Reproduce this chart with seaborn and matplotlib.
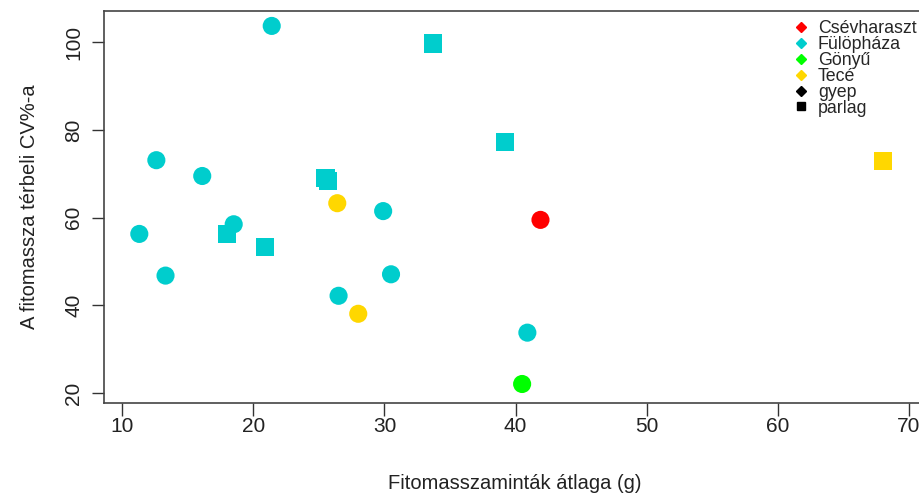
import matplotlib
matplotlib.use("Agg")
import matplotlib.pyplot as plt
from matplotlib import font_manager
from matplotlib.lines import Line2D
import pandas as pd
import seaborn as sns

# data
site = [
    "Fülöpháza", "Fülöpháza", "Fülöpháza", "Fülöpháza", "Fülöpháza",
    "Fülöpháza", "Fülöpháza", "Tecé", "Fülöpháza", "Csévharaszt",
    "Fülöpháza", "Fülöpháza", "Fülöpháza", "Fülöpháza", "Fülöpháza",
    "Fülöpháza", "Fülöpháza", "Tecé", "Fülöpháza", "Gönyű", "Tecé",
]
habitat = [
    "gyep", "parlag", "parlag", "gyep", "gyep",
    "parlag", "parlag", "gyep", "gyep", "gyep",
    "gyep", "gyep", "parlag", "parlag", "gyep",
    "gyep", "gyep", "gyep", "gyep", "gyep", "parlag",
]
biomass_mean = [
    21.4, 33.7, 39.2, 12.6, 16.1,
    25.5, 25.7, 26.4, 29.9, 41.9,
    11.3, 18.5, 18.0, 20.9, 13.3,
    30.5, 26.5, 28.0, 40.9, 40.5, 68.0,
]
biomass_cv = [
    103.7, 99.7, 77.2, 73.1, 69.5,
    69.1, 68.4, 63.3, 61.5, 59.5,
    56.3, 58.5, 56.2, 53.3, 46.8,
    47.1, 42.2, 38.1, 33.8, 22.1, 73.0,
]

site_order = ["Csévharaszt", "Fülöpháza", "Gönyű", "Tecé"]
site_colors = {"Csévharaszt": "#ff0000", "Fülöpháza": "#00cdcd",
               "Gönyű": "#00ff00", "Tecé": "#ffd700"}
habitat_order = ["gyep", "parlag"]
habitat_markers = {"gyep": "o", "parlag": "s"}
x_ticks = [10, 20, 30, 40, 50, 60, 70]
y_ticks = [20, 40, 60, 80, 100]


def main() -> None:
    sns.set_theme(style="white")
    installed = {f.name for f in font_manager.fontManager.ttflist}
    family = "Liberation Sans Narrow" if "Liberation Sans Narrow" in installed else "Liberation Sans"
    plt.rcParams["font.family"] = [family, "DejaVu Sans"]

    df = pd.DataFrame({"site": site, "habitat": habitat,
                       "mean": biomass_mean, "cv": biomass_cv})

    fig = plt.figure(figsize=(9.2, 4.99), dpi=100)
    ax = fig.add_axes([104.3 / 920, 95.7 / 499, (925 - 104.3) / 920, 392.3 / 499])

    sns.scatterplot(
        data=df, x="mean", y="cv",
        hue="site", hue_order=site_order, palette=site_colors,
        style="habitat", style_order=habitat_order, markers=habitat_markers,
        s=170, linewidth=0, legend=False, ax=ax,
    )

    ax.set_xlim(8.63, 71.23)
    ax.set_ylim(17.7, 107.1)
    ax.set_xticks(x_ticks)
    ax.set_yticks(y_ticks)
    ax.tick_params(axis="both", direction="out", length=9, width=1,
                   color="#333333", labelsize=15, labelcolor="#222222",
                   bottom=True, left=True)
    ax.tick_params(axis="x", pad=1)
    ax.tick_params(axis="y", pad=6)
    for label in ax.get_yticklabels():
        label.set_rotation(90)
        label.set_va("center")
    for spine in ax.spines.values():
        spine.set_color("#444444")
        spine.set_linewidth(1.2)

    ax.set_xlabel("Fitomasszaminták átlaga (g)", fontsize=14.5, color="#222222", labelpad=27.5)
    ax.set_ylabel("A fitomassza térbeli CV%-a", fontsize=14.5, color="#222222", labelpad=18)

    handles = [Line2D([], [], marker="D", linestyle="", color=site_colors[s],
                      markersize=5, label=s) for s in site_order]
    handles.append(Line2D([], [], marker="D", linestyle="", color="black",
                          markersize=5, label="gyep"))
    handles.append(Line2D([], [], marker="s", linestyle="", color="black",
                          markersize=6, label="parlag"))
    fig.legend(handles=handles, loc="upper left", bbox_to_anchor=(794 / 920, 1 - 20 / 499),
               frameon=False, fontsize=12.8, handlelength=0.8, handletextpad=0.55,
               labelspacing=-0.06, borderpad=0, borderaxespad=0)

    fig.savefig("out.png", dpi=100)
    plt.close(fig)


if __name__ == "__main__":
    main()
